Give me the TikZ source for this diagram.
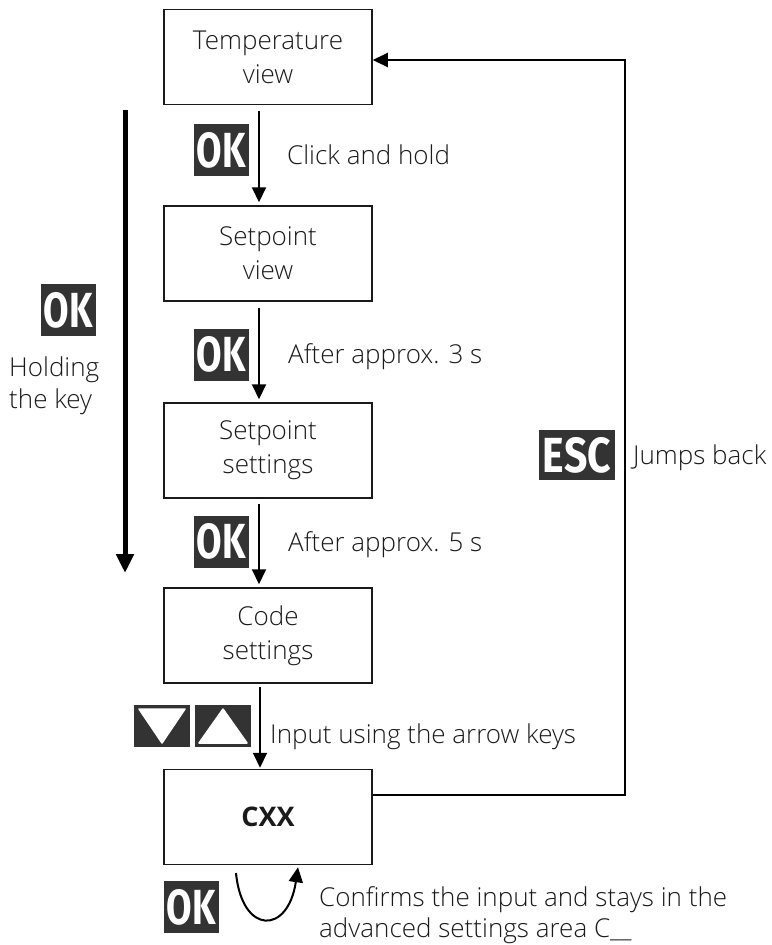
\documentclass[tikz,border=0pt]{standalone}
\usepackage{fontspec}
\usepackage{graphicx}
\IfFontExistsTF{Open Sans Light}{\setmainfont{Open Sans Light}}{\setmainfont{Open Sans}}
\newfontfamily\boldfam{Open Sans}
\newfontfamily\keyfam{Fira Sans}
\usetikzlibrary{arrows.meta}
\definecolor{keygray}{HTML}{333333}
\definecolor{ink}{HTML}{1A1A1A}
\newcommand\keylabel[3]{\resizebox{#1pt}{#2pt}{\keyfam\bfseries #3}}
\tikzset{
  box/.style={draw=ink, line width=1.5pt, minimum width=208pt, minimum height=95pt,
    inner sep=0pt, align=center, text=ink, font=\fontsize{26}{34}\selectfont},
  keybox/.style={fill=keygray, text=white, inner sep=0pt, minimum width=55pt, minimum height=52pt},
  lbl/.style={anchor=base west, inner sep=0pt, text=ink, font=\fontsize{26}{34}\selectfont},
  flow/.style={draw=black, line width=2pt, -{Triangle[length=15pt,width=14pt]}},
  holdarrow/.style={draw=black, line width=5pt, -{Triangle[length=19pt,width=17pt]}},
  keytri/.style={fill=white, draw=white, line width=1.5pt, line join=round}
}
\begin{document}
\begin{tikzpicture}[x=1pt,y=-1pt]
\useasboundingbox (0,0) rectangle (771,945);
% boxes
\node[box] (temp) at (268,57) {Temperature\\view};
\node[box] (sv) at (268,253.5) {Setpoint\\view};
\node[box] (ss) at (268,450.5) {Setpoint\\settings};
\node[box] (cs) at (268,635.5) {Code\\settings};
\node[box, font=\boldfam\bfseries\fontsize{27}{32}\selectfont] (cxx) at (268,817) {CXX};
% flow arrows
\draw[flow] ([xshift=-9pt,yshift=-6pt]temp.south) -- ([xshift=-9pt,yshift=3pt]sv.north);
\draw[flow] ([xshift=-9pt,yshift=-6pt]sv.south) -- ([xshift=-9pt,yshift=3pt]ss.north);
\draw[flow] ([xshift=-9pt,yshift=-5pt]ss.south) -- ([xshift=-9pt,yshift=3pt]cs.north);
\draw[flow] ([xshift=-8pt,yshift=-3pt]cs.south) -- ([xshift=-8pt,yshift=1pt]cxx.north);
% keys
\node[keybox] (ok1) at (221.5,150) {\keylabel{49}{35}{OK}};
\node[keybox] (ok2) at (221.5,354.5) {\keylabel{49}{35}{OK}};
\node[keybox] (ok3) at (221.5,541.5) {\keylabel{49}{35}{OK}};
\node[keybox] (okh) at (68.5,310) {\keylabel{49}{35}{OK}};
\node[keybox] (okc) at (191.5,907) {\keylabel{49}{35}{OK}};
\node[keybox, minimum width=76pt, minimum height=50pt] (esc) at (577,455) {\keylabel{68}{35}{ESC}};
\node[keybox, minimum width=56pt, minimum height=42pt] (kdown) at (162,726) {};
\node[keybox, minimum width=56pt, minimum height=42pt] (kup) at (223,726) {};
\fill[keytri] ([xshift=-23pt,yshift=17pt]kdown.center) -- ([xshift=23pt,yshift=17pt]kdown.center)
  -- ([yshift=-17pt]kdown.center) -- cycle;
\fill[keytri] ([xshift=-24pt,yshift=-17pt]kup.center) -- ([xshift=24pt,yshift=-17pt]kup.center)
  -- ([yshift=17pt]kup.center) -- cycle;
% labels
\node[lbl] (t1) at (287,164) {Click and hold};
\node[lbl] (t2) at (288,363) {After approx. 3 s};
\node[lbl] (t3) at (288,551) {After approx. 5 s};
\node[lbl] (t4) at (270,743) {Input using the arrow keys};
\node[lbl] (t5) at (633,464) {Jumps back};
\node[lbl] (h1) at (9,376) {Holding};
\node[lbl] (h2) at (9,408) {the key};
\node[lbl] (c1) at (319,906) {Confirms the input and stays in the};
\node[lbl] (c2) at (319,937) {advanced settings area C\_\_};
% holding arrow
\coordinate (hs) at (125,110);
\coordinate (he) at (125,573);
\draw[holdarrow] (hs) -- (he);
% return arrow
\coordinate (rc1) at (625,795);
\coordinate (rc2) at (625,60);
\draw[flow] ([yshift=22pt]cxx.east) -- (rc1) -- (rc2) -- ([yshift=-3pt]temp.east);
% loop arrow
\coordinate (ls) at (236,873);
\draw[flow] (ls) .. controls (242,935) and (288,935) .. ([xshift=30pt,yshift=-2pt]cxx.south);
\end{tikzpicture}
\end{document}
